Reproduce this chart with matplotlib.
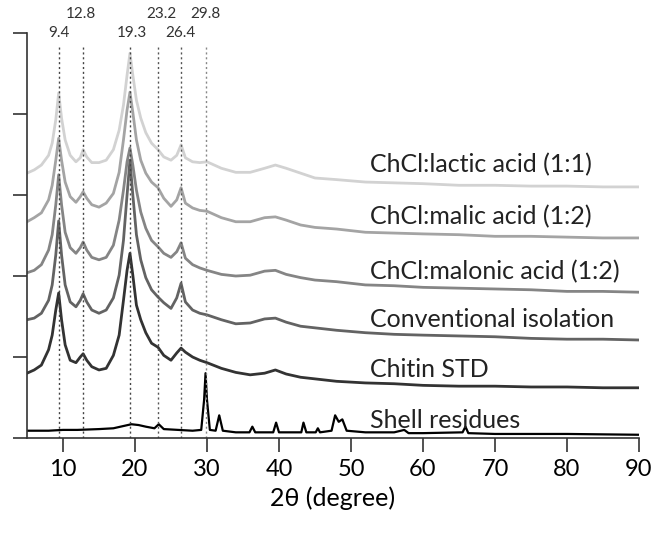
import matplotlib.pyplot as plt

plt.rcParams['font.family'] = ['Lato', 'DejaVu Sans']

# 2theta grid used for the five broad chitin patterns
two_theta = [5, 6, 7, 8, 8.5, 9, 9.4, 9.8, 10.3, 11, 11.8, 12.4, 12.8, 13.3, 14, 15,
             16, 17, 17.8, 18.4, 18.9, 19.3, 19.7, 20.2, 20.8, 21.5, 22.3, 23.2, 24, 25,
             25.8, 26.4, 27, 28, 29, 30, 32, 34, 36, 38, 39.5, 41, 43, 45, 48, 52,
             56, 60, 65, 70, 75, 80, 85, 90]

# intensities (already stacked, arbitrary units)
lactic = [3.27, 3.31, 3.37, 3.49, 3.64, 3.93, 4.26, 3.95, 3.68, 3.49, 3.41, 3.46, 3.56, 3.47,
          3.40, 3.40, 3.43, 3.56, 3.80, 4.11, 4.48, 4.75, 4.48, 4.17, 3.95, 3.77, 3.64, 3.56,
          3.47, 3.43, 3.49, 3.62, 3.46, 3.41, 3.40, 3.41, 3.33, 3.28, 3.28, 3.33, 3.37, 3.33,
          3.27, 3.21, 3.19, 3.16, 3.15, 3.14, 3.12, 3.12, 3.11, 3.11, 3.10, 3.10]
malic = [2.67, 2.72, 2.78, 2.94, 3.12, 3.43, 3.70, 3.43, 3.16, 2.98, 2.91, 2.98, 3.04, 2.96,
         2.88, 2.85, 2.90, 3.02, 3.28, 3.68, 4.05, 4.27, 4.02, 3.68, 3.43, 3.27, 3.16, 3.09,
         2.96, 2.86, 2.94, 3.09, 2.90, 2.84, 2.81, 2.80, 2.72, 2.67, 2.67, 2.72, 2.73, 2.69,
         2.63, 2.60, 2.58, 2.54, 2.53, 2.52, 2.51, 2.49, 2.49, 2.48, 2.47, 2.47]
malonic = [2.04, 2.07, 2.14, 2.32, 2.51, 2.88, 3.25, 2.88, 2.54, 2.35, 2.28, 2.35, 2.42, 2.32,
           2.23, 2.20, 2.23, 2.38, 2.69, 3.06, 3.41, 3.58, 3.37, 3.06, 2.79, 2.59, 2.44, 2.36,
           2.28, 2.23, 2.30, 2.41, 2.22, 2.14, 2.10, 2.07, 2.02, 2.00, 2.01, 2.06, 2.07, 2.02,
           1.98, 1.95, 1.93, 1.89, 1.88, 1.86, 1.85, 1.84, 1.83, 1.81, 1.81, 1.80]
conventional = [1.46, 1.48, 1.54, 1.70, 1.89, 2.26, 2.68, 2.26, 1.89, 1.68, 1.62, 1.70, 1.78, 1.68,
                1.58, 1.54, 1.58, 1.73, 2.01, 2.44, 3.00, 3.43, 3.00, 2.51, 2.20, 1.98, 1.83, 1.74,
                1.67, 1.60, 1.73, 1.91, 1.68, 1.58, 1.54, 1.52, 1.46, 1.41, 1.42, 1.47, 1.48, 1.43,
                1.38, 1.36, 1.33, 1.30, 1.28, 1.27, 1.26, 1.25, 1.23, 1.22, 1.22, 1.21]
chitin_std = [0.80, 0.84, 0.90, 1.09, 1.27, 1.58, 1.79, 1.46, 1.15, 0.96, 0.93, 1.00, 1.04, 0.96,
              0.88, 0.84, 0.86, 1.02, 1.27, 1.70, 2.07, 2.28, 2.01, 1.64, 1.46, 1.30, 1.17, 1.12,
              1.02, 0.96, 1.05, 1.11, 1.06, 1.00, 0.96, 0.93, 0.86, 0.81, 0.78, 0.80, 0.84, 0.79,
              0.75, 0.73, 0.70, 0.68, 0.67, 0.65, 0.64, 0.64, 0.63, 0.63, 0.62, 0.62]

# shell residues has sharp calcite peaks -> own grid
shell_theta = [5, 8, 10, 12, 15, 17, 18.5, 19.5, 20.5, 21.5, 22.7, 23.3, 24, 26, 28, 29.2,
               29.6, 29.8, 30.0, 30.4, 31.2, 31.7, 32.2, 34, 35.9, 36.3, 36.7, 39.2, 39.6, 40.0,
               43.1, 43.4, 43.8, 45.1, 45.4, 45.7, 47.3, 47.8, 48.3, 48.8, 49.4, 52, 56, 57.4,
               58, 60, 65.5, 65.9, 66.3, 70, 80, 90]
shell = [0.09, 0.09, 0.10, 0.10, 0.11, 0.12, 0.15, 0.17, 0.16, 0.14, 0.12, 0.17, 0.11, 0.10,
         0.09, 0.10, 0.47, 0.80, 0.47, 0.10, 0.09, 0.28, 0.09, 0.07, 0.07, 0.14, 0.07, 0.07,
         0.19, 0.07, 0.07, 0.19, 0.07, 0.07, 0.12, 0.07, 0.09, 0.28, 0.20, 0.23, 0.09, 0.07,
         0.07, 0.10, 0.06, 0.06, 0.07, 0.14, 0.06, 0.05, 0.05, 0.04]

names = ['ChCl:lactic acid (1:1)', 'ChCl:malic acid (1:2)', 'ChCl:malonic acid (1:2)',
         'Conventional isolation', 'Chitin STD', 'Shell residues']
label_y = [3.37, 2.73, 2.05, 1.46, 0.85, 0.22]
colors = ['#d2d2d2', '#a4a4a4', '#858585', '#636363', '#333333', '#000000']

# reference peaks
peaks = [9.4, 12.8, 19.3, 23.2, 26.4, 29.8]
peak_colors = ['#444444', '#444444', '#444444', '#555555', '#555555', '#888888']
peak_text = ['9.4', '12.8', '19.3', '23.2', '26.4', '29.8']
peak_text_x = [9.4, 12.5, 19.6, 23.7, 26.3, 29.8]
peak_text_y = [5.0, 5.23, 5.0, 5.23, 5.0, 5.23]

fig = plt.figure(figsize=(6.52, 5.35), dpi=100)
ax = fig.add_axes([0.0414, 0.1813, 0.9386, 0.757])

series = [lactic, malic, malonic, conventional, chitin_std]
for s, c in zip(series, colors[:5]):
    ax.plot(two_theta, s, color=c, lw=2.0, solid_joinstyle='round')
ax.plot(shell_theta, shell, color=colors[5], lw=1.6)

for p, pc in zip(peaks, peak_colors):
    ax.plot([p, p], [0, 4.85], color=pc, lw=1.0, ls=(0, (1.5, 2)))
for t, px, py in zip(peak_text, peak_text_x, peak_text_y):
    ax.text(px, py, t, ha='center', va='center', fontsize=11, color='#333333', clip_on=False)

for n, ly in zip(names, label_y):
    ax.text(52.6, ly, n, ha='left', va='center', fontsize=18, color='#222222')

ax.set_xlim(5, 90)
ax.set_ylim(0, 5)
ax.set_xticks(range(10, 91, 10))
ax.set_yticks(range(0, 6))
ax.set_yticklabels([])
ax.tick_params(axis='both', direction='out', length=10, width=1.2, color='#333333')
ax.tick_params(axis='x', labelsize=17, pad=5)
ax.set_xlabel('2θ (degree)', fontsize=18, labelpad=5)
for side in ['top', 'right']:
    ax.spines[side].set_visible(False)
for side in ['left', 'bottom']:
    ax.spines[side].set_color('#333333')
    ax.spines[side].set_linewidth(1.2)

plt.savefig('out.png', dpi=100)
